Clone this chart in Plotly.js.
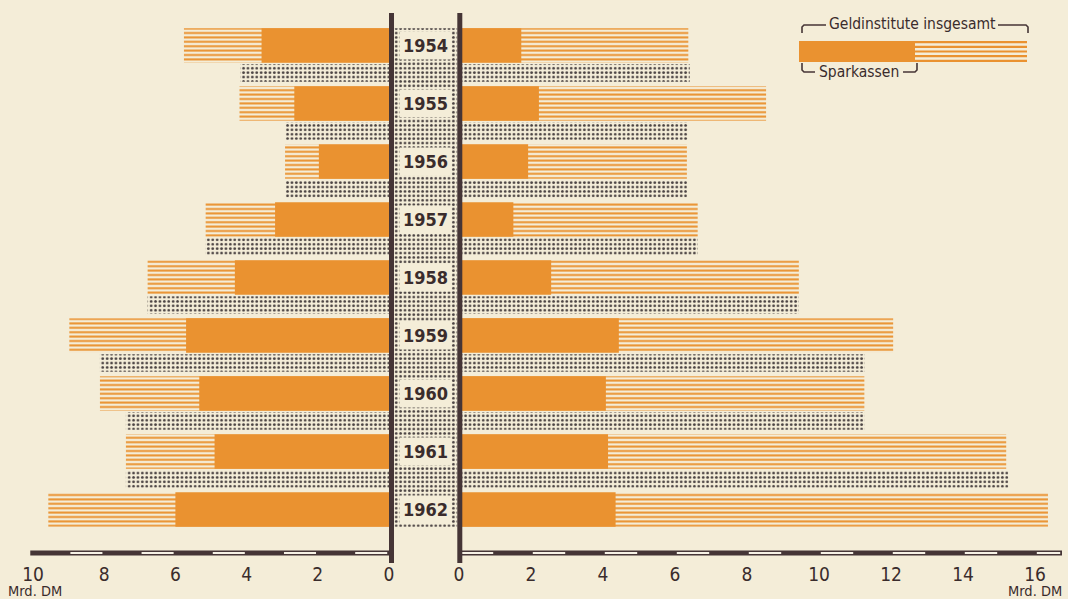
<!DOCTYPE html>
<html><head><meta charset="utf-8">
<script src="https://cdn.plot.ly/plotly-3.0.1.min.js"></script>
<style>html,body{margin:0;padding:0;background:#f4edd8;} #chart{width:1068px;height:599px;}</style>
</head><body><div id="chart"></div>
<script>
// ---- data (Mrd. DM) ----
const years = [1954, 1955, 1956, 1957, 1958, 1959, 1960, 1961, 1962];
const leftTotal = [5.76, 4.20, 2.92, 5.15, 6.78, 8.98, 8.12, 7.39, 9.57];
const leftSparkassen = [3.58, 2.66, 1.97, 3.20, 4.33, 5.70, 5.33, 4.90, 6.00];
const leftDotted = [4.17, 2.90, 2.90, 5.15, 6.78, 8.12, 7.39, 7.39];
const rightTotal = [6.37, 8.53, 6.33, 6.63, 9.44, 12.06, 11.26, 15.20, 16.36];
const rightSparkassen = [1.73, 2.22, 1.92, 1.51, 2.56, 4.44, 4.08, 4.14, 4.35];
const rightDotted = [6.41, 6.36, 6.33, 6.63, 9.44, 11.27, 11.26, 15.26];
const leftTicks = [0, 2, 4, 6, 8, 10];
const rightTicks = [0, 2, 4, 6, 8, 10, 12, 14, 16];
const unitLabel = 'Mrd. DM';
const legendTotalLabel = 'Geldinstitute insgesamt';
const legendSparkLabel = 'Sparkassen';

// ---- style ----
const W = 1068, H = 599;
const BG = '#f4edd8', ORANGE = '#ea9230', DARK = '#453536', TEXT = '#3a2c2c', DOT = '#4a4242';
const FONT = '"Liberation Sans Narrow","DejaVu Sans Condensed","Roboto Condensed",sans-serif';
const px = x => x / W, py = y => 1 - y / H;

const PITCH = 58, Y0PX = 45.5;
const STRIPE_H = 0.596, DOT_H = 0.30, DOT_OFF = 0.475;
const AXIS_PX = 553;
const yTop = -Y0PX / PITCH, yBot = (AXIS_PX - Y0PX) / PITCH;
const LEFT_MAX = 10.08, RIGHT_MAX = 16.75;
const LPX = 35.6, RPX = 36;
const L0 = 389, R0 = 459;

const rowY = years.map((_, i) => i);
const dotY = leftDotted.map((_, i) => i + DOT_OFF);

function striped(xs, ys, xa) {
  return {type: 'bar', orientation: 'h', x: xs, y: ys, xaxis: xa, yaxis: 'y', width: STRIPE_H,
    marker: {color: BG, line: {width: 0}, pattern: {shape: '-', fgcolor: ORANGE, bgcolor: BG, size: 4.4, solidity: 0.45, fillmode: 'replace'}},
    hoverinfo: 'skip'};
}
function solid(xs, ys, xa) {
  return {type: 'bar', orientation: 'h', x: xs, y: ys, xaxis: xa, yaxis: 'y', width: STRIPE_H,
    marker: {color: ORANGE, line: {width: 0}}, hoverinfo: 'skip'};
}
function dotted(xs, ys, xa, w) {
  return {type: 'bar', orientation: 'h', x: xs, y: ys, xaxis: xa, yaxis: 'y', width: w,
    marker: {color: BG, line: {width: 0}, pattern: {shape: '.', fgcolor: DOT, bgcolor: BG, size: 4.4, solidity: 0.3, fillmode: 'replace'}},
    hoverinfo: 'skip'};
}

const colTop = rowY[0] - STRIPE_H / 2, colBot = rowY[rowY.length - 1] + STRIPE_H / 2;

const traces = [
  striped(leftTotal, rowY, 'x'), solid(leftSparkassen, rowY, 'x'), dotted(leftDotted, dotY, 'x', DOT_H),
  striped(rightTotal, rowY, 'x2'), solid(rightSparkassen, rowY, 'x2'), dotted(rightDotted, dotY, 'x2', DOT_H),
  dotted([1], [(colTop + colBot) / 2], 'x3', colBot - colTop)
];

// ---- axis shapes ----
const shapes = [];
const axY = py(AXIS_PX);
shapes.push({type: 'line', xref: 'x', yref: 'paper', x0: LEFT_MAX, x1: 0, y0: axY, y1: axY, line: {color: DARK, width: 5}, layer: 'above'});
shapes.push({type: 'line', xref: 'x2', yref: 'paper', x0: 0, x1: RIGHT_MAX, y0: axY, y1: axY, line: {color: DARK, width: 5}, layer: 'above'});
for (let k = 0; k < 10; k += 2) {
  shapes.push({type: 'line', xref: 'x', yref: 'paper', x0: k + 0.05, x1: k + 0.95, y0: axY, y1: axY, line: {color: '#f7f2e6', width: 2}, layer: 'above'});
}
for (let k = 0; k < 17; k += 2) {
  const e = Math.min(k + 0.95, RIGHT_MAX - 0.05);
  shapes.push({type: 'line', xref: 'x2', yref: 'paper', x0: k + 0.05, x1: e, y0: axY, y1: axY, line: {color: '#f7f2e6', width: 2}, layer: 'above'});
}
// center column vertical rules
[391.5, 459.8].forEach(xp => {
  shapes.push({type: 'line', xref: 'paper', yref: 'paper', x0: px(xp), x1: px(xp), y0: py(13), y1: py(563), line: {color: DARK, width: 5}, layer: 'above'});
});

// ---- legend (drawn) ----
const lg = {x0: 799, xm: 915, x1: 1027, y0: 41, y1: 62};
shapes.push({type: 'rect', xref: 'paper', yref: 'paper', x0: px(lg.x0), x1: px(lg.xm), y0: py(lg.y1), y1: py(lg.y0), fillcolor: ORANGE, line: {width: 0}});
for (let k = 0; k < 5; k++) {
  const yy = lg.y0 + 1.1 + k * (lg.y1 - lg.y0 - 2.2) / 4;
  shapes.push({type: 'line', xref: 'paper', yref: 'paper', x0: px(lg.xm), x1: px(lg.x1), y0: py(yy), y1: py(yy), line: {color: ORANGE, width: 2.2}});
}
function pathPx(pts) {
  return pts.map((p, i) => (i ? 'L' : 'M') + px(p[0]).toFixed(5) + ',' + py(p[1]).toFixed(5)).join(' ');
}
const brk = (pts) => ({type: 'path', xref: 'paper', yref: 'paper', path: pathPx(pts), line: {color: DARK, width: 1.6}});
shapes.push(brk([[802, 33], [802, 27], [804, 25], [826, 25]]));
shapes.push(brk([[998, 25], [1026, 25], [1028, 27], [1028, 33]]));
shapes.push(brk([[802, 63], [802, 70], [804, 72], [815, 72]]));
shapes.push(brk([[903, 72], [915, 72], [917, 70], [917, 63]]));

// ---- annotations ----
const ann = (x, y, text, size, extra) => Object.assign({
  xref: 'paper', yref: 'paper', x: x, y: y, text: text, showarrow: false, xanchor: 'center', yanchor: 'middle',
  font: {family: FONT, size: size, color: TEXT}
}, extra || {});
const annotations = years.map((yr, i) => ann(px(425.5), rowY[i], String(yr), 18,
  {yref: 'y', font: {family: FONT, size: 18, color: TEXT, weight: 'bold'}, bgcolor: BG, borderpad: 3}));
annotations.push(ann(px(912), py(24), legendTotalLabel, 15.5));
annotations.push(ann(px(859), py(72), legendSparkLabel, 15.5));
annotations.push(ann(px(35), py(591), unitLabel, 14.5));
annotations.push(ann(px(1035), py(591), unitLabel, 14.5));

const tickFont = {family: FONT, size: 19, color: TEXT};
const layout = {
  width: W, height: H, margin: {l: 0, r: 0, t: 0, b: 0},
  paper_bgcolor: BG, plot_bgcolor: 'rgba(0,0,0,0)',
  barmode: 'overlay', showlegend: false, hovermode: false,
  xaxis: {domain: [px(L0 - LEFT_MAX * LPX), px(L0)], range: [LEFT_MAX, 0], anchor: 'y',
    tickvals: leftTicks, ticktext: leftTicks.map(String), ticks: '', ticklabelstandoff: 8, showgrid: false, zeroline: false, showline: false, tickfont: tickFont, fixedrange: true},
  xaxis2: {domain: [px(R0), px(R0 + RIGHT_MAX * RPX)], range: [0, RIGHT_MAX], anchor: 'y',
    tickvals: rightTicks, ticktext: rightTicks.map(String), ticks: '', ticklabelstandoff: 8, showgrid: false, zeroline: false, showline: false, tickfont: tickFont, fixedrange: true},
  xaxis3: {domain: [px(394), px(457.5)], range: [0, 1], anchor: 'y', visible: false, fixedrange: true},
  yaxis: {domain: [py(AXIS_PX), 1], range: [yBot, yTop], visible: false, fixedrange: true},
  shapes: shapes, annotations: annotations
};
Plotly.newPlot('chart', traces, layout, {displayModeBar: false, staticPlot: true});
</script>
</body></html>
